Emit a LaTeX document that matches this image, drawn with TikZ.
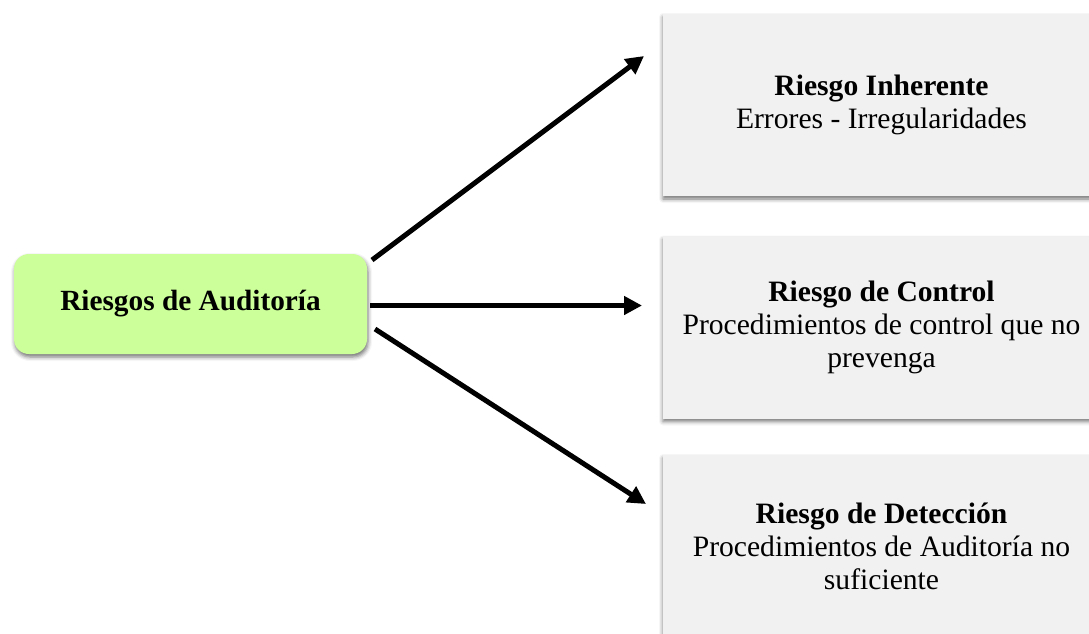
\documentclass[tikz,border=0pt]{standalone}
\usepackage{fontspec}
\setmainfont{Liberation Serif}
\usetikzlibrary{arrows.meta,shadows.blur}
\definecolor{greenfill}{RGB}{204,255,153}
\definecolor{greyfill}{RGB}{241,241,241}
\tikzset{
  mainbox/.style={fill=greenfill, rounded corners=15pt, minimum width=353pt, minimum height=100pt,
    blur shadow={shadow xshift=1pt, shadow yshift=-3pt, shadow blur radius=4pt, shadow opacity=55},
    font=\fontsize{29.3}{33}\selectfont\bfseries, inner sep=0pt},
  riskbox/.style={fill=greyfill, minimum width=437pt, minimum height=182pt, align=center,
    blur shadow={shadow xshift=0pt, shadow yshift=-3pt, shadow blur radius=4pt, shadow opacity=55},
    font=\fontsize{29.6}{33}\selectfont, inner sep=0pt},
  conn/.style={line width=5pt, -{Triangle[length=18pt,width=18pt]}}
}
\begin{document}
\begin{tikzpicture}[x=1pt,y=1pt]
\useasboundingbox (0,0) rectangle (1089,-633);
\clip (0,0) rectangle (1089,-633);
\node[mainbox] (g) at (190.5,-304) {Riesgos de Auditoría};
\node[riskbox] (b1) at (881.5,-105) {\textbf{Riesgo Inherente}\\Errores - Irregularidades};
\node[riskbox] (b2) at (881.5,-327.5) {\textbf{Riesgo de Control}\\Procedimientos de control que no\\prevenga};
\node[riskbox] (b3) at (881.5,-546) {\textbf{Riesgo de Detección}\\Procedimientos de Auditoría no\\suficiente};
\coordinate (s1) at (372,-260);
\coordinate (e1) at (644,-56);
\coordinate (s2) at (370,-305.5);
\coordinate (e2) at (642,-305.5);
\coordinate (s3) at (375,-329);
\coordinate (e3) at (646,-504);
\draw[conn] (s1) -- (e1);
\draw[conn] (s2) -- (e2);
\draw[conn] (s3) -- (e3);
\end{tikzpicture}
\end{document}
